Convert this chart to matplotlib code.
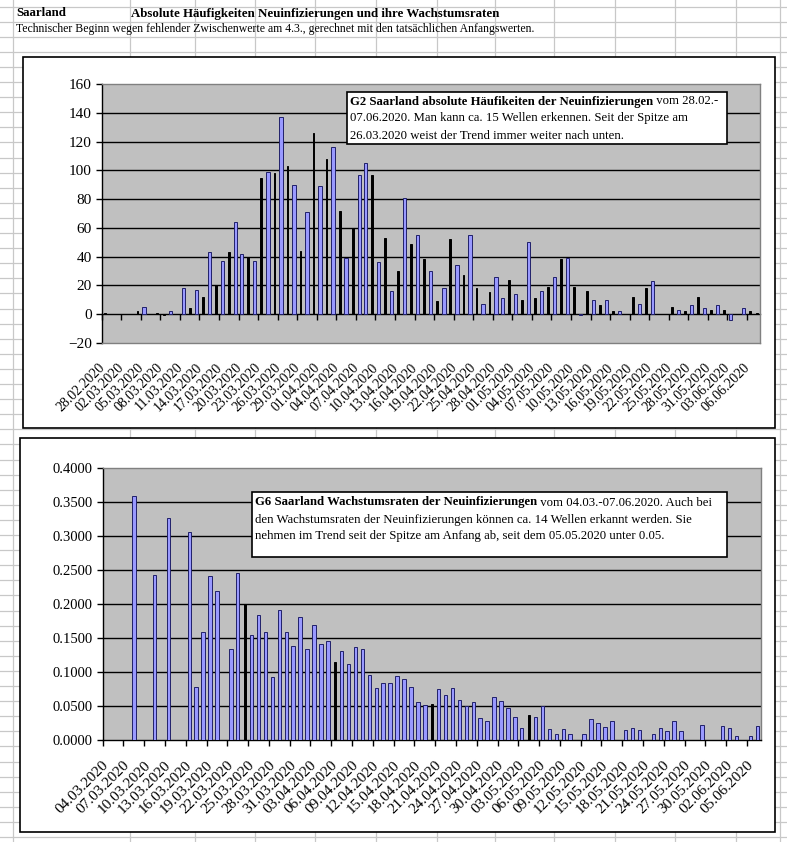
import matplotlib
matplotlib.use('Agg')
import matplotlib.pyplot as plt
import numpy as np
import pandas as pd
from matplotlib.patches import Rectangle
from matplotlib.ticker import FormatStrFormatter
from matplotlib.transforms import ScaledTranslation

W, H = 787, 842
plt.rcParams['font.family'] = ['Liberation Serif', 'DejaVu Serif']

# ---------------- data ----------------
dates_top = pd.date_range('2020-02-28', periods=101).strftime('%d.%m.%Y').tolist()
new_cases = [1, 0, 0, 0, 0, 2, 5, 0, 1, -1,
             2, 0, 18, 4, 17, 12, 43, 20, 37, 43,
             64, 42, 40, 37, 95, 99, 98, 137, 103, 90,
             44, 71, 126, 89, 108, 116, 72, 39, 60, 97,
             105, 97, 36, 53, 16, 30, 81, 49, 55, 38,
             30, 9, 18, 52, 34, 27, 55, 18, 7, 15,
             26, 11, 24, 14, 10, 50, 11, 16, 19, 26,
             38, 39, 19, -1, 16, 10, 6, 10, 2, 2,
             0, 12, 7, 18, 23, 0, 0, 5, 3, 2,
             6, 12, 4, 3, 6, 3, -4, 0, 4, 2, 1]
blue_top = [6, 10, 12, 14, 16, 18, 20, 21, 23, 25, 27, 29, 31, 33, 35, 37, 39, 40,
            42, 44, 46, 48, 50, 52, 54, 56, 58, 60, 61, 63, 65, 67, 69, 71, 73, 75,
            77, 79, 82, 84, 88, 90, 92, 94, 96, 98]

dates_bot = pd.date_range('2020-03-04', periods=95).strftime('%d.%m.%Y').tolist()
growth = [0, 0, 0, 0, 0.359, 0, 0, 0.243, 0, 0.327,
          0, 0, 0.306, 0.078, 0.160, 0.241, 0.219, 0, 0.135, 0.246,
          0.200, 0.155, 0.185, 0.159, 0.093, 0.191, 0.160, 0.138, 0.181, 0.135,
          0.170, 0.141, 0.146, 0.115, 0.132, 0.112, 0.137, 0.134, 0.096, 0.077,
          0.085, 0.084, 0.094, 0.090, 0.079, 0.057, 0.052, 0.054, 0.075, 0.066,
          0.077, 0.060, 0.050, 0.056, 0.033, 0.029, 0.063, 0.058, 0.047, 0.035,
          0.018, 0.037, 0.035, 0.051, 0.016, 0.010, 0.016, 0.010, 0, 0.010,
          0.032, 0.026, 0.019, 0.028, 0, 0.015, 0.018, 0.015, 0, 0.009,
          0.018, 0.013, 0.029, 0.013, 0, 0, 0.022, 0, 0, 0.021,
          0.018, 0.007, 0, 0.007, 0.021]
black_bot = [20, 33, 47, 61]

header_left = 'Saarland'
header_title = 'Absolute Häufigkeiten Neuinfizierungen und ihre Wachstumsraten'
header_sub = ('Technischer Beginn wegen fehlender Zwischenwerte am 4.3., '
              'gerechnet mit den tatsächlichen Anfangswerten.')

box1_bold = 'G2 Saarland absolute Häufikeiten der Neuinfizierungen'
box1_lines = [' vom 28.02.-',
              '07.06.2020. Man kann ca. 15 Wellen erkennen. Seit der Spitze am',
              '26.03.2020 weist der Trend immer weiter nach unten.']
box2_bold = 'G6 Saarland Wachstumsraten der Neuinfizierungen'
box2_lines = [' vom 04.03.-07.06.2020. Auch bei',
              'den Wachstumsraten der Neuinfizierungen können ca. 14 Wellen erkannt werden. Sie',
              'nehmen im Trend seit der Spitze am Anfang ab, seit dem 05.05.2020 unter 0.05.']

BLUE_FC = '#9999FF'
BLUE_EC = '#20206A'
PLOT_BG = '#C0C0C0'
SHEET_GRID = '#C8C8C8'

fig = plt.figure(figsize=(W / 100, H / 100), dpi=100)

# background "spreadsheet"
bg = fig.add_axes([0, 0, 1, 1])
bg.set_xlim(0, W)
bg.set_ylim(H, 0)
bg.axis('off')
for xv in [13, 130, 195, 255, 315, 376, 437, 495, 554, 615, 675, 736, 780]:
    bg.axvline(xv, color=SHEET_GRID, lw=0.9, zorder=0)
for yv in np.arange(6.5, H, 15.1):
    bg.axhline(yv, color=SHEET_GRID, lw=0.9, zorder=0)

bg.add_patch(Rectangle((23, 57), 752, 371, fc='white', ec='black', lw=1.2, zorder=1))
bg.add_patch(Rectangle((20, 438), 755, 394, fc='white', ec='black', lw=1.2, zorder=1))

bg.text(16, 13.5, header_left, fontsize=9.3, weight='bold', va='center', zorder=2)
bg.text(131, 13.5, header_title, fontsize=9.3, weight='bold', va='center', zorder=2)
bg.text(16, 29, header_sub, fontsize=8.5, va='center', zorder=2)


def axes_px(l, t, r, b):
    return fig.add_axes([l / W, 1 - b / H, (r - l) / W, (b - t) / H])


def style_axes(ax, ysize):
    ax.set_facecolor(PLOT_BG)
    for s in ['top', 'right', 'bottom']:
        ax.spines[s].set_color('#808080')
        ax.spines[s].set_linewidth(1)
    ax.spines['left'].set_color('black')
    ax.spines['left'].set_linewidth(1)
    ax.tick_params(axis='y', direction='out', length=4, width=1, labelsize=ysize, pad=3)


# ---------------- top chart ----------------
ax1 = axes_px(101.7, 84.3, 760, 342.7)
style_axes(ax1, 11)
x1 = np.arange(len(new_cases))
fc1 = [BLUE_FC if i in blue_top else 'black' for i in x1]
ec1 = [BLUE_EC if i in blue_top else 'black' for i in x1]
w1 = [0.5 if i in blue_top else 0.28 for i in x1]
ax1.bar(x1, new_cases, width=w1, color=fc1, edgecolor=ec1, linewidth=0.7, zorder=3)
ax1.set_xlim(-0.5, len(new_cases) - 0.5)
ax1.set_ylim(-20, 160)
ax1.set_yticks(np.arange(-20, 161, 20))
for yv in np.arange(20, 141, 20):
    ax1.axhline(yv, color='black', lw=1, zorder=1)
ax1.set_xticks(x1[::3])
ax1.set_xticklabels(dates_top[::3], rotation=45, ha='right', va='top',
                    rotation_mode='anchor', fontsize=10)
ax1.tick_params(axis='x', length=0, pad=13)
for lab in ax1.get_xticklabels():
    lab.set_transform(lab.get_transform() + ScaledTranslation(-7 / 100, 0, fig.dpi_scale_trans))

sec = ax1.secondary_xaxis(20 / 180)
sec.set_xticks(np.arange(-0.5, len(new_cases), 3))
sec.tick_params(axis='x', direction='out', length=4, width=1, labelbottom=False, labeltop=False)
for s in sec.spines.values():
    s.set_color('black')
    s.set_linewidth(1)

# ---------------- bottom chart ----------------
ax2 = axes_px(102.7, 468.3, 760.7, 740.3)
style_axes(ax2, 10.5)
ax2.spines['bottom'].set_color('black')
x2 = np.arange(len(growth))
fc2 = ['black' if i in black_bot else BLUE_FC for i in x2]
ec2 = ['black' if i in black_bot else BLUE_EC for i in x2]
w2 = [0.28 if i in black_bot else 0.5 for i in x2]
ax2.bar(x2, growth, width=w2, color=fc2, edgecolor=ec2, linewidth=0.7, zorder=3)
ax2.set_xlim(-0.5, len(growth) - 0.5)
ax2.set_ylim(0, 0.4)
ax2.set_yticks(np.arange(0, 0.4001, 0.05))
ax2.yaxis.set_major_formatter(FormatStrFormatter('%.4f'))
for yv in np.arange(0.05, 0.36, 0.05):
    ax2.axhline(yv, color='black', lw=1, zorder=1)
ax2.set_xticks(x2[::3])
ax2.set_xticklabels(dates_bot[::3], rotation=45, ha='right', va='top',
                    rotation_mode='anchor', fontsize=11)
ax2.set_xticks(np.arange(-0.5, len(growth), 3), minor=True)
ax2.tick_params(axis='x', which='major', length=0, pad=13)
ax2.tick_params(axis='x', which='minor', direction='out', length=4, width=1)
for lab in ax2.get_xticklabels():
    lab.set_transform(lab.get_transform() + ScaledTranslation(-4 / 100, 0, fig.dpi_scale_trans))

# ---------------- text boxes ----------------
tb = fig.add_axes([0, 0, 1, 1])
tb.set_xlim(0, W)
tb.set_ylim(H, 0)
tb.axis('off')
tb.set_zorder(10)
tb.patch.set_alpha(0)

renderer = fig.canvas.get_renderer()


def text_box(rect, bold, lines, x0, ys, fs):
    l, t, r, b = rect
    tb.add_patch(Rectangle((l, t), r - l, b - t, fc='white', ec='black', lw=1.2))
    t1 = tb.text(x0, ys[0], bold, fontsize=fs, weight='bold', va='center')
    bb = t1.get_window_extent(renderer)
    tb.text(bb.x1, ys[0], lines[0], fontsize=fs, va='center')
    for yy, line in zip(ys[1:], lines[1:]):
        tb.text(x0, yy, line, fontsize=fs, va='center')


text_box((347, 92, 727, 144), box1_bold, box1_lines, 350, [101.5, 118.5, 136], 9.2)
text_box((252, 492, 727, 557), box2_bold, box2_lines, 255, [502.5, 519.5, 536], 9.2)

fig.savefig('out.png', dpi=100)
